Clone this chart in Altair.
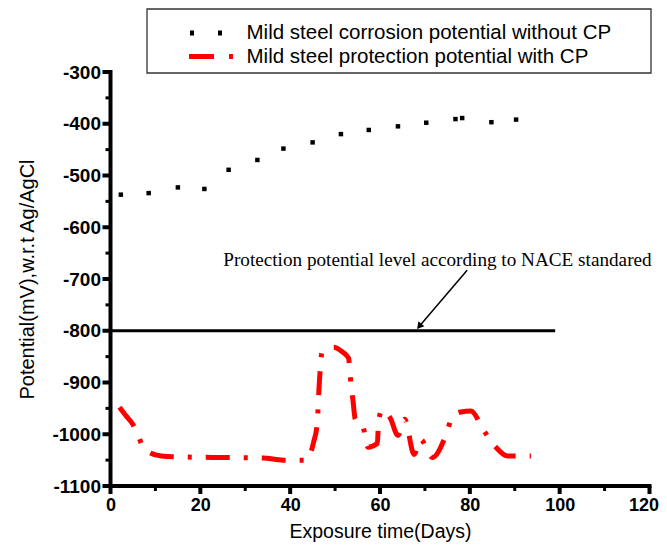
import altair as alt
import pandas as pd

# ---------------- data ----------------
black_days = [2.3, 8.5, 15.0, 20.9, 26.3, 32.7, 38.5, 45.0, 51.3, 57.5, 64.0, 70.3, 76.8, 78.3, 84.8, 90.3]
black_mv = [-537, -534, -523, -526, -489, -470, -448, -436, -420, -412, -405, -398, -391, -389, -397, -392]

red_days = [2.0, 3.5, 5.0, 5.7, 7.6, 11.3, 17.0, 25.0, 34.0, 38.5, 43.7, 45.2, 46.0, 46.5, 47.1,
            49.7, 51.5, 53.0, 53.4, 54.0, 54.5, 56.0, 57.3, 59.4, 59.7, 60.5, 62.3, 64.0, 65.5,
            67.6, 69.0, 71.7, 74.6, 76.1, 78.0, 80.2, 83.2, 85.8, 88.4, 93.6]
red_mv = [-948, -965, -981, -993, -1029, -1042, -1044, -1045, -1046, -1050, -1050, -1016, -981, -900, -842,
          -832, -840, -853, -890, -936, -971, -978, -1025, -1018, -974, -953, -969, -1002, -971,
          -1039, -1010, -1045, -1003, -967, -957, -955, -994, -1025, -1042, -1042]

series_labels = ["Mild steel corrosion potential without CP", "Mild steel protection potential with CP"]

nace_level = [-800]
nace_start = [0]
nace_end = [99]

annotation_text = ["Protection potential level according to NACE standared"]
annotation_day = [25.1]
annotation_mv = [-675]

arrow_days = [79.4, 68.9]
arrow_mv = [-683, -790]

x_domain = [0, 120]
y_domain = [-1100, -300]
x_ticks = [0, 20, 40, 60, 80, 100, 120]
x_minor = [10, 30, 50, 70, 90, 110]
y_ticks = [-1100, -1000, -900, -800, -700, -600, -500, -400, -300]
y_minor = [-1050, -950, -850, -750, -650, -550, -450, -350]

# ---------------- tables ----------------
black_df = pd.DataFrame({"day": black_days, "mv": black_mv})
red_df = pd.DataFrame({"day": red_days, "mv": red_mv})
nace_df = pd.DataFrame({"start": nace_start, "end": nace_end, "mv": nace_level})
anno_df = pd.DataFrame({"day": annotation_day, "mv": annotation_mv, "text": annotation_text})
arrow_df = pd.DataFrame({"day": arrow_days, "mv": arrow_mv})
head_df = pd.DataFrame({"day": arrow_days[-1:], "mv": arrow_mv[-1:]})
xmaj_df = pd.DataFrame({"day": x_ticks})
ymaj_df = pd.DataFrame({"mv": y_ticks})
xminor_df = pd.DataFrame({"day": x_minor})
yminor_df = pd.DataFrame({"mv": y_minor})
axis_x_df = pd.DataFrame({"d0": [x_domain[0]], "d1": [x_domain[1]], "mv": [y_domain[0]]})
axis_y_df = pd.DataFrame({"day": [x_domain[0]], "m0": [y_domain[0]], "m1": [y_domain[1]]})
one = pd.DataFrame({"k": [0]})

SANS = "Liberation Sans"
SERIF = "Liberation Serif"
W, H = 539, 414

xs = alt.Scale(domain=x_domain, nice=False, zero=False)
ys = alt.Scale(domain=y_domain, nice=False, zero=False)

x_major = alt.Axis(values=x_ticks, grid=False, labelExpr="'' + datum.value",
                   labelFont=SANS, labelFontSize=18, labelFontWeight="bold", labelColor="black",
                   labelPadding=10, labelFlush=False, labelOverlap=False,
                   labelOffset={"condition": {"test": "datum.value == 120", "value": -6}, "value": 0},
                   ticks=False, domain=False,
                   titleFont=SANS, titleFontSize=19.5, titleFontWeight="normal", titleColor="black",
                   titlePadding=8)
y_major = alt.Axis(values=y_ticks, grid=False, labelExpr="'' + datum.value",
                   labelFont=SANS, labelFontSize=19, labelFontWeight="bold", labelColor="black",
                   labelPadding=10, labelFlush=False, labelOverlap=False,
                   ticks=False, domain=False,
                   titleFont=SANS, titleFontSize=20, titleFontWeight="normal", titleColor="black",
                   titlePadding=14)

red_line = alt.Chart(red_df).mark_line(
    color="#ff0000", strokeWidth=5, strokeDash=[24, 14, 4, 14], interpolate="monotone", strokeCap="butt"
).encode(
    x=alt.X("day:Q", scale=xs, axis=x_major, title="Exposure time(Days)"),
    y=alt.Y("mv:Q", scale=ys, axis=y_major, title="Potential(mV),w.r.t Ag/AgCl"),
)

black_pts = alt.Chart(black_df).mark_square(size=20, color="black", opacity=1).encode(
    x=alt.X("day:Q", scale=xs),
    y=alt.Y("mv:Q", scale=ys),
)

nace_rule = alt.Chart(nace_df).mark_rule(color="black", strokeWidth=3).encode(
    x=alt.X("start:Q", scale=xs),
    x2="end:Q",
    y=alt.Y("mv:Q", scale=ys),
)

anno = alt.Chart(anno_df).mark_text(
    align="left", baseline="alphabetic", font=SERIF, fontSize=19.2, color="black"
).encode(
    x=alt.X("day:Q", scale=xs),
    y=alt.Y("mv:Q", scale=ys),
    text="text:N",
)

arrow = alt.Chart(arrow_df).mark_line(color="black", strokeWidth=1.5).encode(
    x=alt.X("day:Q", scale=xs),
    y=alt.Y("mv:Q", scale=ys),
)
arrow_head = alt.Chart(head_df).mark_point(
    shape="triangle", angle=220, size=60, filled=True, color="black", opacity=1
).encode(
    x=alt.X("day:Q", scale=xs),
    y=alt.Y("mv:Q", scale=ys),
)

# ---------------- axis lines and ticks, through the scales ----------------
x_axis_line = alt.Chart(axis_x_df).mark_rule(stroke="#000000", strokeWidth=4, strokeCap="square").encode(
    x=alt.X("d0:Q", scale=xs), x2="d1:Q", y=alt.Y("mv:Q", scale=ys)
)
y_axis_line = alt.Chart(axis_y_df).mark_rule(stroke="#000000", strokeWidth=4, strokeCap="square").encode(
    x=alt.X("day:Q", scale=xs), y=alt.Y("m0:Q", scale=ys), y2="m1:Q"
)
x_major_ticks = alt.Chart(xmaj_df).mark_rule(stroke="#000000", strokeWidth=4).encode(
    x=alt.X("day:Q", scale=xs), y=alt.value(H), y2=alt.value(H + 8)
)
x_minor_ticks = alt.Chart(xminor_df).mark_rule(stroke="#000000", strokeWidth=3).encode(
    x=alt.X("day:Q", scale=xs), y=alt.value(H), y2=alt.value(H + 5)
)
y_major_ticks = alt.Chart(ymaj_df).mark_rule(stroke="#000000", strokeWidth=4).encode(
    y=alt.Y("mv:Q", scale=ys), x=alt.value(-8), x2=alt.value(0)
)
y_minor_ticks = alt.Chart(yminor_df).mark_rule(stroke="#000000", strokeWidth=3).encode(
    y=alt.Y("mv:Q", scale=ys), x=alt.value(-5), x2=alt.value(0)
)

# ---------------- hand-made legend (pixel layout) ----------------
legend_box = alt.Chart(one).mark_rect(fill="white", stroke="#333333", strokeWidth=1.3).encode(
    x=alt.value(36.5), x2=alt.value(540.5), y=alt.value(-63), y2=alt.value(1)
)
legend_black = alt.Chart(one).mark_rule(color="black", strokeWidth=5, strokeDash=[4, 24]).encode(
    x=alt.value(79.5), x2=alt.value(112), y=alt.value(-39)
)
legend_red = alt.Chart(one).mark_rule(color="#ff0000", strokeWidth=5, strokeDash=[25, 15, 4, 15]).encode(
    x=alt.value(78.5), x2=alt.value(123.5), y=alt.value(-15.5)
)
legend_t1 = alt.Chart(one).mark_text(
    text=series_labels[0], align="left", baseline="middle", font=SANS, fontSize=20.5, color="black"
).encode(x=alt.value(136), y=alt.value(-39))
legend_t2 = alt.Chart(one).mark_text(
    text=series_labels[1], align="left", baseline="middle", font=SANS, fontSize=20.5, color="black"
).encode(x=alt.value(136), y=alt.value(-15))

chart = alt.layer(
    red_line, black_pts, nace_rule, anno, arrow, arrow_head,
    x_minor_ticks, y_minor_ticks, x_major_ticks, y_major_ticks, x_axis_line, y_axis_line,
    legend_box, legend_black, legend_red, legend_t1, legend_t2,
).properties(
    width=W, height=H,
    autosize=alt.AutoSizeParams(type="none"),
    padding={"left": 102.5, "top": 64, "right": 9, "bottom": 58},
    background="white",
).configure_view(stroke=None)

chart.save("out.html", embed_options={"renderer": "svg", "actions": False})
